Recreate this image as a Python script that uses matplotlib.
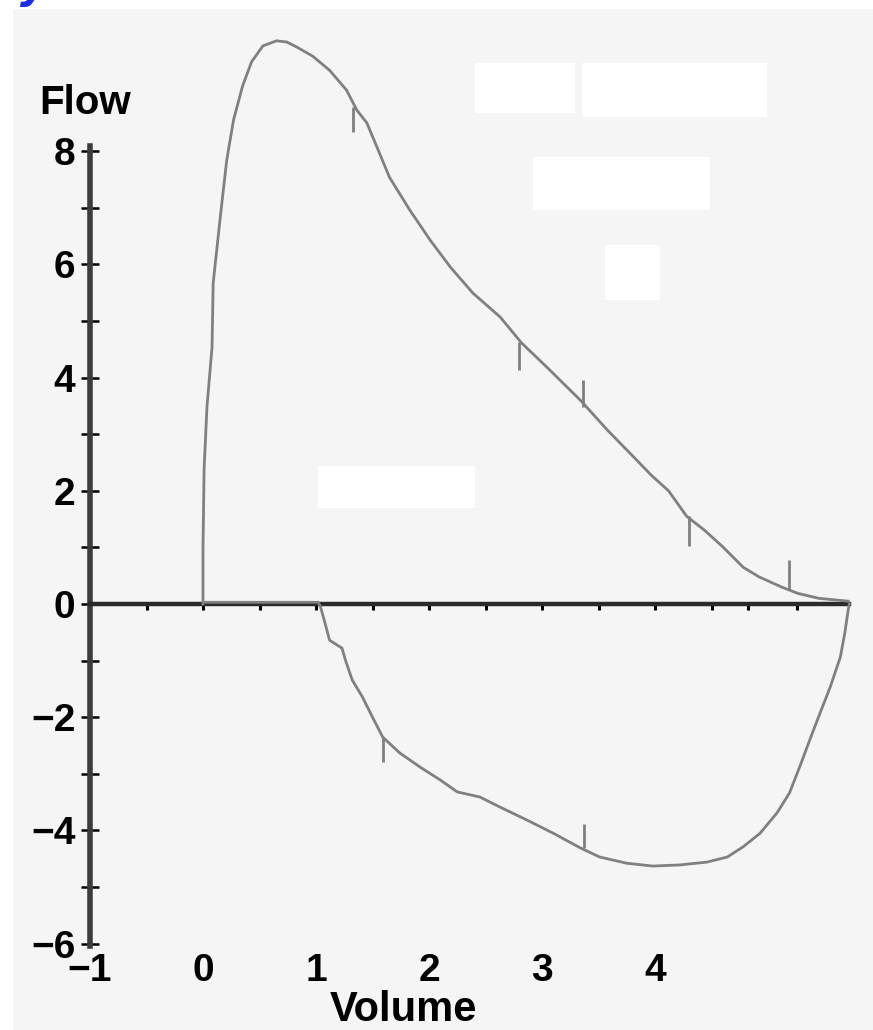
import matplotlib
matplotlib.use("Agg")
import matplotlib.pyplot as plt
from matplotlib.patches import Rectangle

# ---------------- data ----------------
exp_volume = [0.0, 0.0, 0.01, 0.035, 0.08, 0.09, 0.15, 0.17, 0.21, 0.27, 0.35, 0.43,
              0.53, 0.65, 0.74, 0.83, 0.97, 1.12, 1.27, 1.36, 1.45, 1.54, 1.65, 1.83,
              2.01, 2.19, 2.39, 2.63, 2.82, 3.04, 3.34, 3.58, 3.81, 3.97, 4.12, 4.28,
              4.44, 4.60, 4.78, 4.92, 5.12, 5.26, 5.45, 5.71]
exp_flow = [0.0, 1.0, 2.4, 3.48, 4.54, 5.67, 6.78, 7.14, 7.84, 8.55, 9.15, 9.58,
            9.86, 9.95, 9.93, 9.84, 9.68, 9.43, 9.08, 8.73, 8.50, 8.07, 7.54, 6.96,
            6.43, 5.95, 5.49, 5.07, 4.61, 4.19, 3.60, 3.07, 2.60, 2.27, 2.00, 1.55,
            1.30, 1.01, 0.65, 0.48, 0.30, 0.19, 0.10, 0.05]

insp_volume = [0.0, 1.02, 1.04, 1.08, 1.12, 1.23, 1.26, 1.32, 1.41, 1.50, 1.59, 1.74,
               1.92, 2.10, 2.25, 2.45, 2.63, 2.87, 3.10, 3.34, 3.51, 3.75, 3.98, 4.22,
               4.46, 4.64, 4.78, 4.93, 5.08, 5.19, 5.28, 5.37, 5.46, 5.55, 5.64, 5.68,
               5.71, 5.72]
insp_flow = [0.03, 0.03, -0.05, -0.34, -0.64, -0.78, -0.99, -1.34, -1.64, -2.00, -2.35,
             -2.63, -2.88, -3.11, -3.32, -3.41, -3.59, -3.82, -4.05, -4.31, -4.47, -4.58,
             -4.63, -4.61, -4.56, -4.47, -4.29, -4.05, -3.69, -3.34, -2.88, -2.40, -1.93,
             -1.47, -0.94, -0.51, -0.10, 0.0]

# timing marks on the curves
mark_volume = [1.33, 2.80, 3.36, 4.30, 5.19, 1.59, 3.37]
mark_flow_from = [8.78, 4.63, 3.48, 1.55, 0.25, -2.35, -4.31]
mark_flow_to = [8.34, 4.13, 3.96, 1.02, 0.78, -2.80, -3.88]

y_ticks = list(range(-6, 9))
y_tick_labels = [("−%d" % -v if v < 0 else "%d" % v) if v % 2 == 0 else "" for v in y_ticks]
x_ticks = [-0.5, 0.0, 0.5, 1.0, 1.5, 2.0, 2.5, 3.0, 3.5, 4.0, 4.5, 4.82, 5.26]
x_label_values = [-1, 0, 1, 2, 3, 4]
x_label_texts = ["−1", "0", "1", "2", "3", "4"]
x_axis_end = 5.72

# ---------------- figure ----------------
W, H = 873, 1030
fig = plt.figure(figsize=(W / 100, H / 100), dpi=100, facecolor="white")

FONT = ["Liberation Sans", "DejaVu Sans"]

# scanned grey background
fig.patches.append(Rectangle((13 / W, 0), 1 - 13 / W, 1 - 9 / H, transform=fig.transFigure,
                             facecolor="#f5f5f5", edgecolor="none", zorder=-2))
# white blanked-out areas of the scan
for (x0, y0, x1, y1) in [(475, 63, 575, 113), (582, 63, 767, 117), (533, 157, 710, 210),
                         (605, 245, 660, 300), (318, 466, 475, 508)]:
    fig.patches.append(Rectangle((x0 / W, 1 - y1 / H), (x1 - x0) / W, (y1 - y0) / H,
                                 transform=fig.transFigure, facecolor="white",
                                 edgecolor="none", zorder=-1))

# blue fragment of a heading cut off at the top
fig.text(20 / W, 1.0 + 2 / H, "y", color="#1a2ee8", fontsize=30, fontweight="bold",
         fontstyle="italic", va="baseline", ha="left")

xlim = (-1.1, 5.8)
ylim = (-6.3, 10.4)
px_x, px_y = 113.0, 56.6
left_px = 90 - (-1 - xlim[0]) * px_x
right_px = left_px + (xlim[1] - xlim[0]) * px_x
top_px = 604 - ylim[1] * px_y
bot_px = 604 - ylim[0] * px_y
ax = fig.add_axes([left_px / W, 1 - bot_px / H, (right_px - left_px) / W, (bot_px - top_px) / H])
ax.set_zorder(5)
ax.set_xlim(*xlim)
ax.set_ylim(*ylim)
ax.patch.set_alpha(0)

for s in ["top", "right"]:
    ax.spines[s].set_visible(False)
ax.spines["left"].set_position(("data", -1))
ax.spines["left"].set_bounds(-6.05, 8.1)
ax.spines["left"].set_linewidth(4.0)
ax.spines["left"].set_color("#3c3c3c")
ax.spines["bottom"].set_position(("data", 0))
ax.spines["bottom"].set_bounds(-1, x_axis_end)
ax.spines["bottom"].set_linewidth(3.2)
ax.spines["bottom"].set_color("#2a2a2a")

ax.set_yticks(y_ticks)
ax.set_yticklabels(y_tick_labels)
ax.tick_params(axis="y", direction="inout", length=13, width=1.8, color="black", pad=4,
               labelsize=28)
for lab in ax.get_yticklabels():
    lab.set_fontfamily(FONT)
    lab.set_fontweight("bold")

ax.set_xticks(x_ticks)
ax.set_xticklabels([])
ax.tick_params(axis="x", direction="out", length=4, width=2.2, color="black")

# curves
ax.plot(exp_volume, exp_flow, color="#808080", lw=2.0, zorder=3, clip_on=False,
        solid_joinstyle="round")
ax.plot(insp_volume, insp_flow, color="#808080", lw=2.0, zorder=3, clip_on=False,
        solid_joinstyle="round")
ax.vlines(mark_volume, mark_flow_from, mark_flow_to, color="#808080", lw=2.0, zorder=3)

# x tick labels sit at the bottom of the plot
for v, t in zip(x_label_values, x_label_texts):
    ax.text(v, -6.48, t, ha="center", va="center", fontsize=28, fontweight="bold",
            family=FONT, clip_on=False)

ax.text(1.77, -7.36, "Volume", ha="center", va="baseline", fontsize=30, fontweight="bold",
        family=FONT, clip_on=False)
ax.text(-1.04, 8.85, "Flow", ha="center", va="center", fontsize=29, fontweight="bold",
        family=FONT, clip_on=False)

fig.savefig("out.png", dpi=100, facecolor="white")
